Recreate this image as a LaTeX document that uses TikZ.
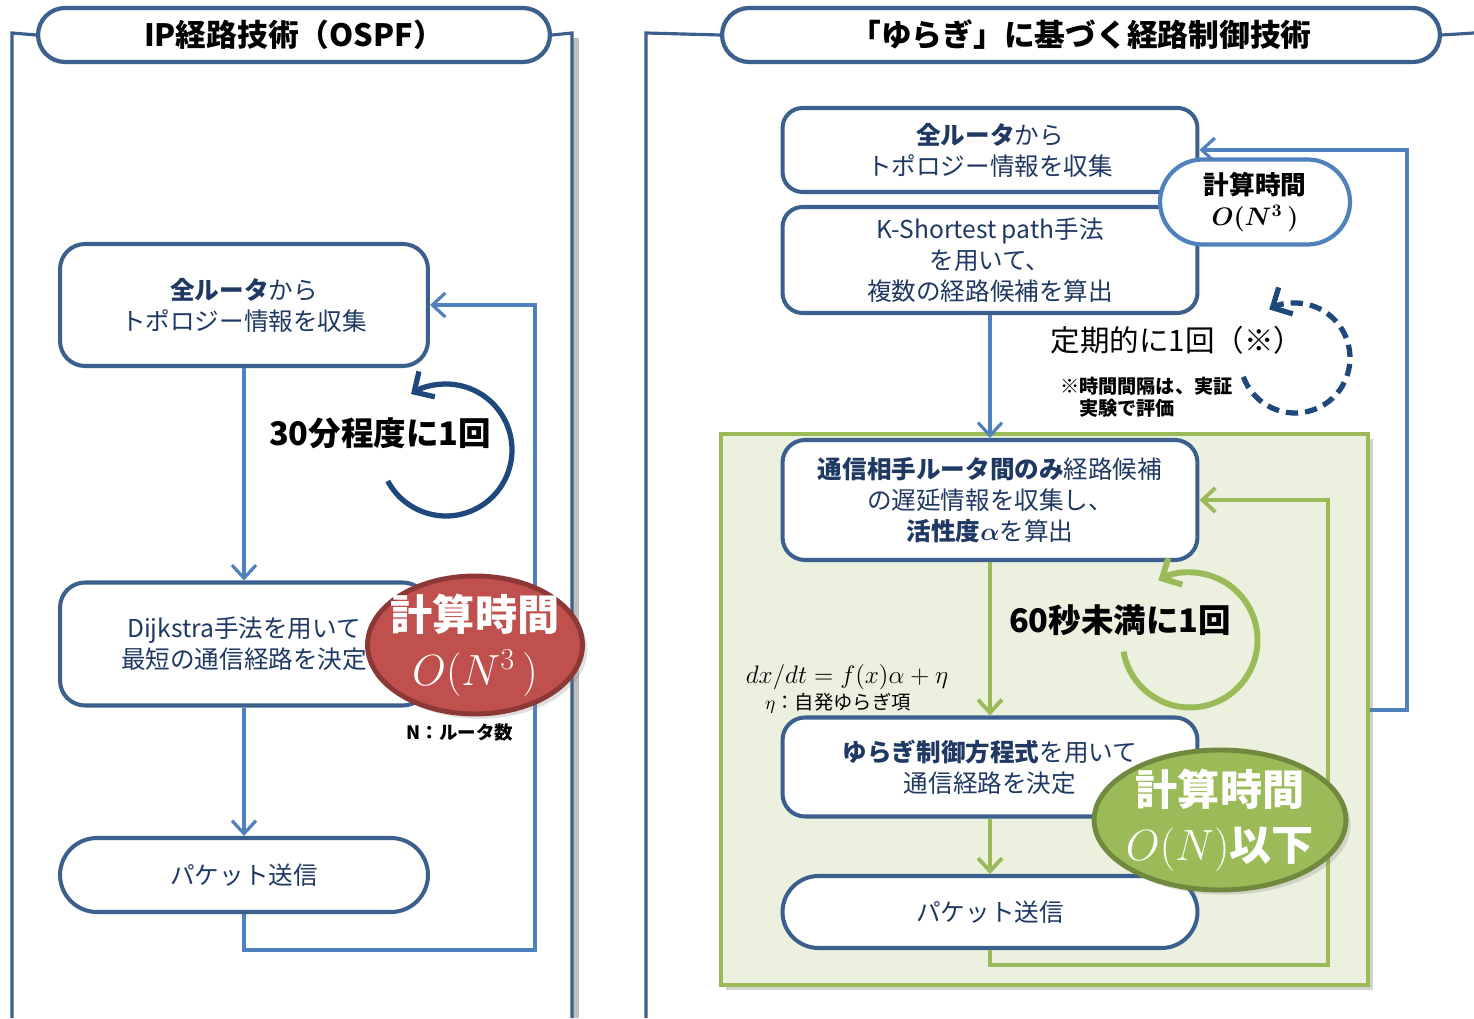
\documentclass[tikz,border=0pt]{standalone}
\usepackage{fontspec}
\usepackage{amsmath}
\setmainfont{Noto Sans CJK JP}
\usetikzlibrary{arrows.meta,shapes.geometric,shadows}

\definecolor{frameblue}{RGB}{60,96,142}
\definecolor{lineblue}{RGB}{79,129,189}
\definecolor{navy}{RGB}{31,56,100}
\definecolor{loopblue}{RGB}{31,73,125}
\definecolor{redfill}{RGB}{192,80,77}
\definecolor{redline}{RGB}{140,56,54}
\definecolor{greenfill}{RGB}{155,187,89}
\definecolor{greenline}{RGB}{113,137,63}
\definecolor{greenbg}{RGB}{235,241,222}

\tikzset{
	frame/.style={draw=frameblue, line width=1.8pt},
	title/.style={draw=frameblue, line width=2.4pt, fill=white, rounded corners=0.54cm, minimum height=1.08cm, font=\fontsize{17.5}{20}\selectfont\bfseries},
	box/.style={draw=frameblue, line width=2.3pt, fill=white, rounded corners=0.45cm, minimum width=8.3cm, text=navy, align=center, font=\fontsize{14}{17.6}\selectfont},
	flow/.style={draw=lineblue, line width=1.8pt, ->, >={Straight Barb[length=2.6mm,width=4.8mm]}},
	gflow/.style={flow, draw=greenfill, line width=2.2pt},
	cyc/.style={draw=loopblue, line width=3pt, ->, >={Straight Barb[length=3mm,width=6mm]}},
	cost/.style={ellipse, line width=2.8pt, text=white, align=center, inner ysep=-0.4cm, font=\fontsize{24}{31}\selectfont\bfseries, drop shadow={opacity=0.25}},
	lap/.style={font=\fontsize{18.5}{22}\selectfont\bfseries}
}

\begin{document}
\begin{tikzpicture}[x=0.02cm, y=0.02cm]
	\useasboundingbox (0,0) rectangle (1474,1018);
	% green zone (right)
	\node[draw=greenfill, line width=1.8pt, fill=greenbg, minimum width=12.94cm, minimum height=11.02cm, drop shadow={shadow xshift=3pt, shadow yshift=-3pt, opacity=0.35}] (zone)at(1044.5, 308.5) {};

	% frames and titles
	\draw[black!25, line width=3pt] (576,0) -- (576,980);
	\node[title, minimum width=10.24cm] (TL)at(294, 983) {IP経路技術（OSPF）};
	\node[title, minimum width=14.36cm] (TR)at(1081, 983) {「ゆらぎ」に基づく経路制御技術};
	\draw[frame] (12,0) -- (12,985) -- (TL.west);
	\draw[frame] (TL.east) -- (572,985) -- (572,0);
	\draw[frame] (646,0) -- (646,985) -- (TR.west);
	\draw[frame] (TR.east) -- (1474,985);

	% left: OSPF
	\node[box, minimum width=7.36cm, minimum height=2.44cm, rounded corners=0.5cm] (L1)at(244, 713) {{\bfseries 全ルータ}から\\トポロジー情報を収集};
	\node[box, minimum width=7.36cm, minimum height=2.46cm, rounded corners=0.5cm] (L2)at(244, 374) {Dijkstra手法を用いて\\最短の通信経路を決定};
	\node[box, minimum width=7.36cm, minimum height=1.48cm, rounded corners=0.74cm] (L3)at(244, 143) {パケット送信};
	\coordinate (fbL) at (535, 68);
	\draw[flow] (L1) -- (L2);
	\draw[flow] (L2) -- (L3);
	\draw[flow] (L3.south) |- (fbL) |- (L1.east);
	\draw[cyc] (446,568) ++(208:1.32cm) arc[start angle=208, end angle=482, radius=1.32cm];
	\node[lap] (lapL)at(380, 585) {30分程度に1回};
	\node[cost, draw=redline, fill=redfill, inner xsep=-0.2cm, minimum width=4.3cm, minimum height=2.76cm] (costL)at(475, 373) {計算時間\\$O(N^{3}\,)$};
	\node[font=\fontsize{10.5}{12}\selectfont\bfseries] (noteN)at(460, 285) {N：ルータ数};

	% right: fluctuation based
	\node[box, minimum height=1.68cm, rounded corners=0.4cm] (R1)at(990, 868) {{\bfseries 全ルータ}から\\トポロジー情報を収集};
	\node[box, minimum height=2.12cm, rounded corners=0.4cm] (R2)at(990, 758) {K-Shortest path手法\\を用いて、\\複数の経路候補を算出};
	\node[box, minimum height=2.4cm] (R3)at(990, 518) {{\bfseries 通信相手ルータ間のみ}経路候補\\の遅延情報を収集し、\\{\bfseries 活性度$\boldsymbol{\alpha}$}を算出};
	\node[box, minimum height=1.98cm] (R4)at(990, 251) {{\bfseries ゆらぎ制御方程式}を用いて\\通信経路を決定};
	\node[box, minimum height=1.44cm, rounded corners=0.72cm] (R5)at(990, 106) {パケット送信};
	\coordinate (fbR) at (1407, 308);
	\coordinate (fbG) at (1328, 53);
	\draw[flow] (R2) -- (R3);
	\draw[flow] (zone.east |- fbR) -- (fbR) |- (R1.east);
	\draw[gflow] (R3) -- (R4);
	\draw[gflow] (R4) -- (R5);
	\draw[gflow] (R5.south) |- (fbG) |- (R3.east);
	\node[draw=lineblue, line width=2.4pt, fill=white, rounded corners=0.85cm, minimum width=3.8cm, minimum height=1.7cm, align=center, font=\fontsize{14.6}{18}\selectfont\bfseries] (costP)at(1255, 816) {計算時間\\$\boldsymbol{O(N^{3}\,)}$};
	\draw[cyc, dash pattern=on 7pt off 4pt] (1295,660) ++(200:1.1cm) arc[start angle=200, end angle=478, radius=1.1cm];
	\node[font=\fontsize{16.8}{21}\selectfont] (lapP)at(1177, 678) {定期的に1回（※）};
	\node[anchor=west, align=left, font=\fontsize{10.9}{12.5}\selectfont\bfseries] (noteP)at(1054, 621) {※時間間隔は、実証\\　実験で評価};
	\draw[cyc, draw=greenfill, line width=3.4pt] (1190,378) ++(190:1.35cm) arc[start angle=190, end angle=478, radius=1.35cm];
	\node[lap] (lapG)at(1120, 398) {60秒未満に1回};
	\node[font=\fontsize{14}{16}\selectfont] (eq)at(847, 341) {$dx/dt = f(x)\alpha + \eta$};
	\node[font=\fontsize{11}{13}\selectfont] (noteE)at(838, 315) {$\eta$：自発ゆらぎ項};
	\node[cost, draw=greenline, fill=greenfill, inner xsep=-0.1cm, minimum width=4.6cm, minimum height=2.8cm] (costG)at(1220, 198) {計算時間\\{\mdseries$O(N)$}以下};
\end{tikzpicture}
\end{document}
